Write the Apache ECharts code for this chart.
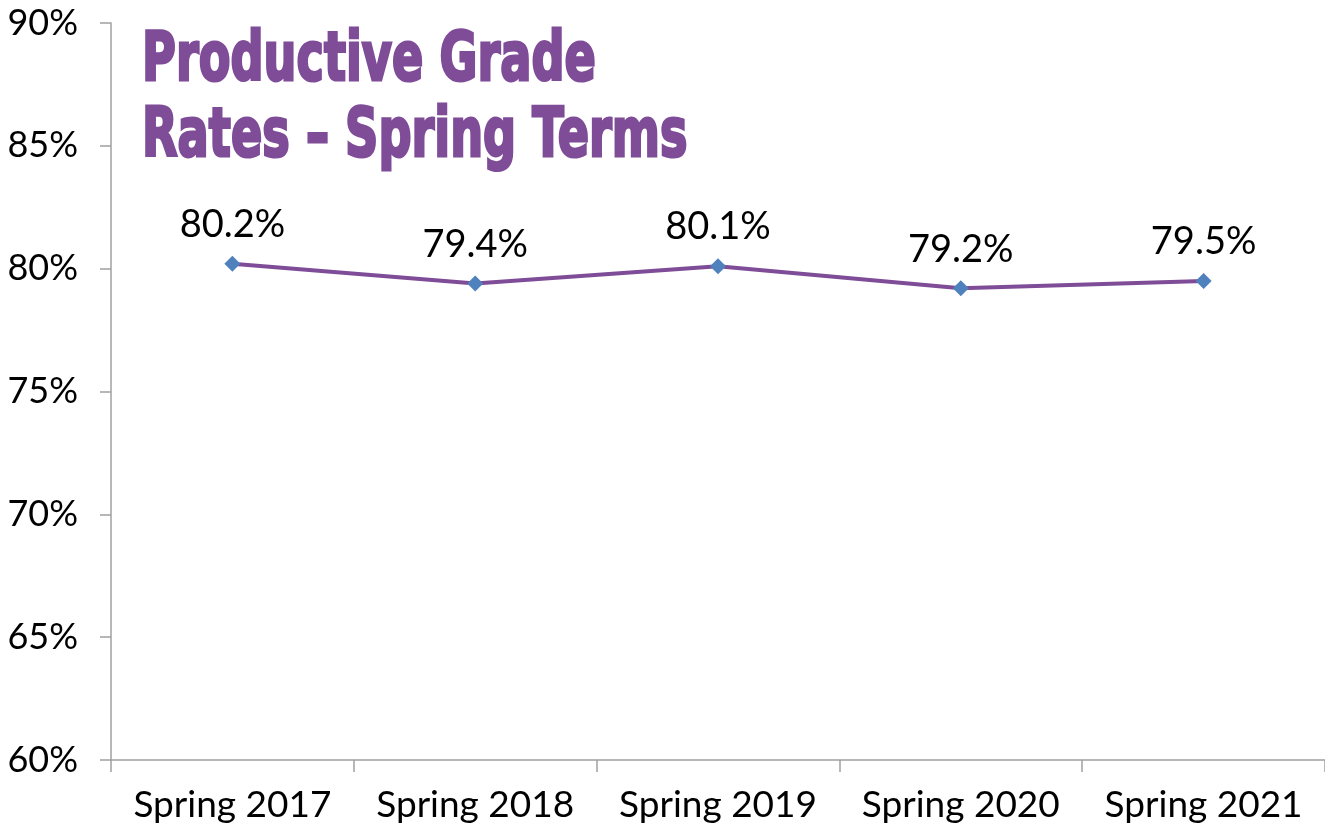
<!DOCTYPE html>
<html lang="en">
<head>
    <meta charset="UTF-8">
    <title>Productive Grade Rates</title>
    <script src="https://cdn.jsdelivr.net/npm/echarts@6/dist/echarts.min.js"></script>
    <style>
        html, body { margin: 0; padding: 0; background: #fff; }
        #main { width: 1325px; height: 830px; }
    </style>
</head>
<body>
<div id="main"></div>
<script>
    // data
    var terms = ['Spring 2017', 'Spring 2018', 'Spring 2019', 'Spring 2020', 'Spring 2021'];
    var rates = [80.2, 79.4, 80.1, 79.2, 79.5];
    var yTicks = [60, 65, 70, 75, 80, 85, 90];

    var font = 'Lato';
    var purple = '#7f4c98';

    var chart = echarts.init(document.getElementById('main'));
    var option = {
        animation: false,
        grid: { left: 111, right: -6, top: 23, bottom: 70, containLabel: false },
        graphic: [
            {
                // title sits inside the plot, squeezed to look like a condensed heavy face
                type: 'text',
                x: 142,
                y: 24,
                scaleX: 0.68,
                style: {
                    text: 'Productive Grade\nRates \u2013 Spring Terms',
                    font: 'bold 68px "DejaVu Sans", sans-serif',
                    fill: purple,
                    stroke: purple,
                    lineWidth: 3,
                    lineHeight: 76
                }
            }
        ],
        xAxis: {
            type: 'category',
            data: terms,
            boundaryGap: true,
            axisLine: { lineStyle: { color: '#a0a0a0', width: 1.5 } },
            axisTick: { show: true, length: 12, lineStyle: { color: '#a0a0a0', width: 1.5 } },
            axisLabel: { color: '#000', fontFamily: font, fontSize: 37, margin: 27, interval: 0 }
        },
        yAxis: {
            type: 'value',
            min: 60,
            max: 90,
            interval: 5,
            splitLine: { show: false },
            axisLine: { show: true, lineStyle: { color: '#a0a0a0', width: 1.5 } },
            axisTick: { show: true, length: 11, lineStyle: { color: '#a0a0a0', width: 1.5 } },
            axisLabel: {
                color: '#000', fontFamily: font, fontSize: 36, margin: 33,
                formatter: function (v) { return yTicks.indexOf(v) >= 0 ? v + '%' : ''; }
            }
        },
        series: [
            {
                type: 'line',
                data: rates,
                symbol: 'diamond',
                symbolSize: [16, 16],
                lineStyle: { color: purple, width: 4 },
                itemStyle: { color: '#4f81bd' },
                label: {
                    show: true,
                    position: 'top',
                    distance: 12,
                    color: '#000',
                    fontFamily: font,
                    fontSize: 38,
                    formatter: function (p) { return p.value.toFixed(1) + '%'; }
                }
            }
        ]
    };
    chart.setOption(option);
</script>
</body>
</html>
